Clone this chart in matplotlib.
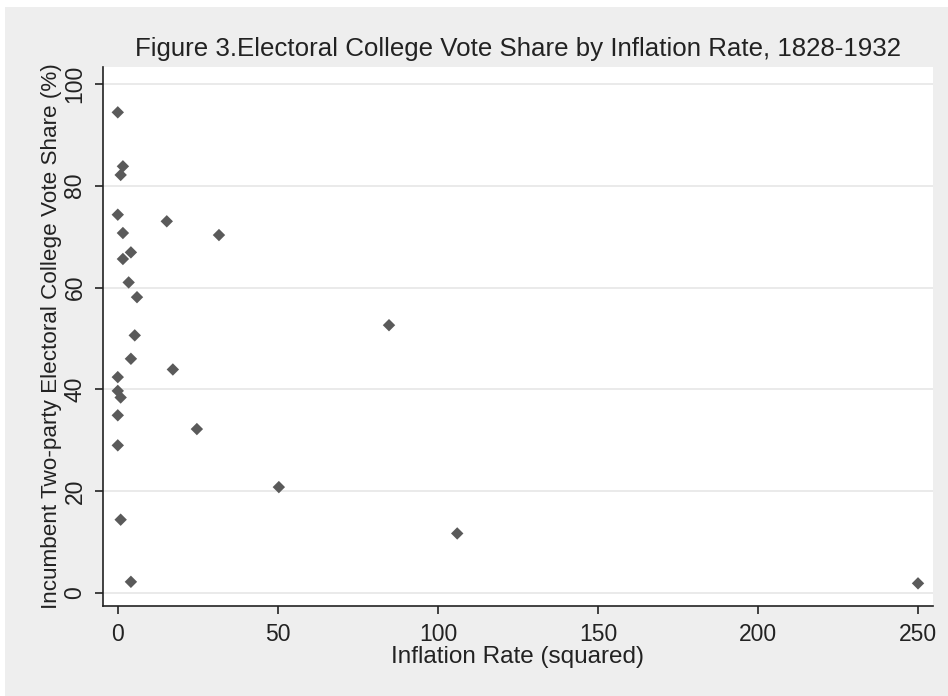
from matplotlib import pyplot as plt
from matplotlib.patches import Rectangle

# inflation rate squared vs incumbent electoral college vote share
inflation_sq = [0, 1.6, 0.9, 0, 15.3, 31.6, 1.6, 4.1, 1.6, 3.4, 6.0, 5.3, 4.1,
                17.2, 0, 0, 0.9, 0, 24.7, 0, 50.3, 0.9, 4.1, 84.7, 106.0, 249.9]
vote_share = [94.4, 83.8, 82.1, 74.3, 73.0, 70.3, 70.7, 66.9, 65.6, 61.0, 58.1, 50.6, 46.0,
              43.9, 42.4, 39.7, 38.4, 34.9, 32.2, 29.0, 20.8, 14.4, 2.2, 52.6, 11.7, 1.9]

x_ticks = [0, 50, 100, 150, 200, 250]
y_ticks = [0, 20, 40, 60, 80, 100]

plt.rcParams['font.family'] = ['Liberation Sans', 'DejaVu Sans']

fig = plt.figure(figsize=(9.48, 6.96), dpi=100, facecolor='white')
# grey graph region (thin white margin at top/left like the screenshot)
fig.patches.append(Rectangle((5 / 948, 0), 1, 1 - 7 / 696, transform=fig.transFigure,
                             facecolor='#eeeeee', edgecolor='none', zorder=-10))

ax = fig.add_axes([0.1087, 0.1293, 0.8752, 0.7744])
ax.set_facecolor('white')

ax.scatter(inflation_sq, vote_share, marker='D', s=40, color='#5a5a5a',
           edgecolors='none', zorder=3)

ax.set_xlim(-4.6, 254.5)
ax.set_ylim(-2.55, 103.3)
ax.set_xticks(x_ticks)
ax.set_yticks(y_ticks)
ax.grid(axis='y', color='#e8e8e8', linewidth=1.3)
ax.set_axisbelow(True)

for side in ['top', 'right']:
    ax.spines[side].set_visible(False)
for side in ['left', 'bottom']:
    ax.spines[side].set_color('#222222')
    ax.spines[side].set_linewidth(1.2)

ax.tick_params(axis='both', length=5.5, width=1.2, color='#222222', labelsize=16.5,
               labelcolor='#222222', pad=6.5)
for lbl in ax.get_yticklabels():
    lbl.set_rotation(90)
    lbl.set_va('center')

ax.set_xlabel('Inflation Rate (squared)', fontsize=17.5, color='#222222', labelpad=0)
ax.set_ylabel('Incumbent Two-party Electoral College Vote Share (%)', fontsize=16.2,
              color='#222222', labelpad=1)
ax.set_title('Figure 3.Electoral College Vote Share by Inflation Rate, 1828-1932',
             fontsize=18.6, color='#222222', pad=8)

fig.savefig('out.png', dpi=100)
